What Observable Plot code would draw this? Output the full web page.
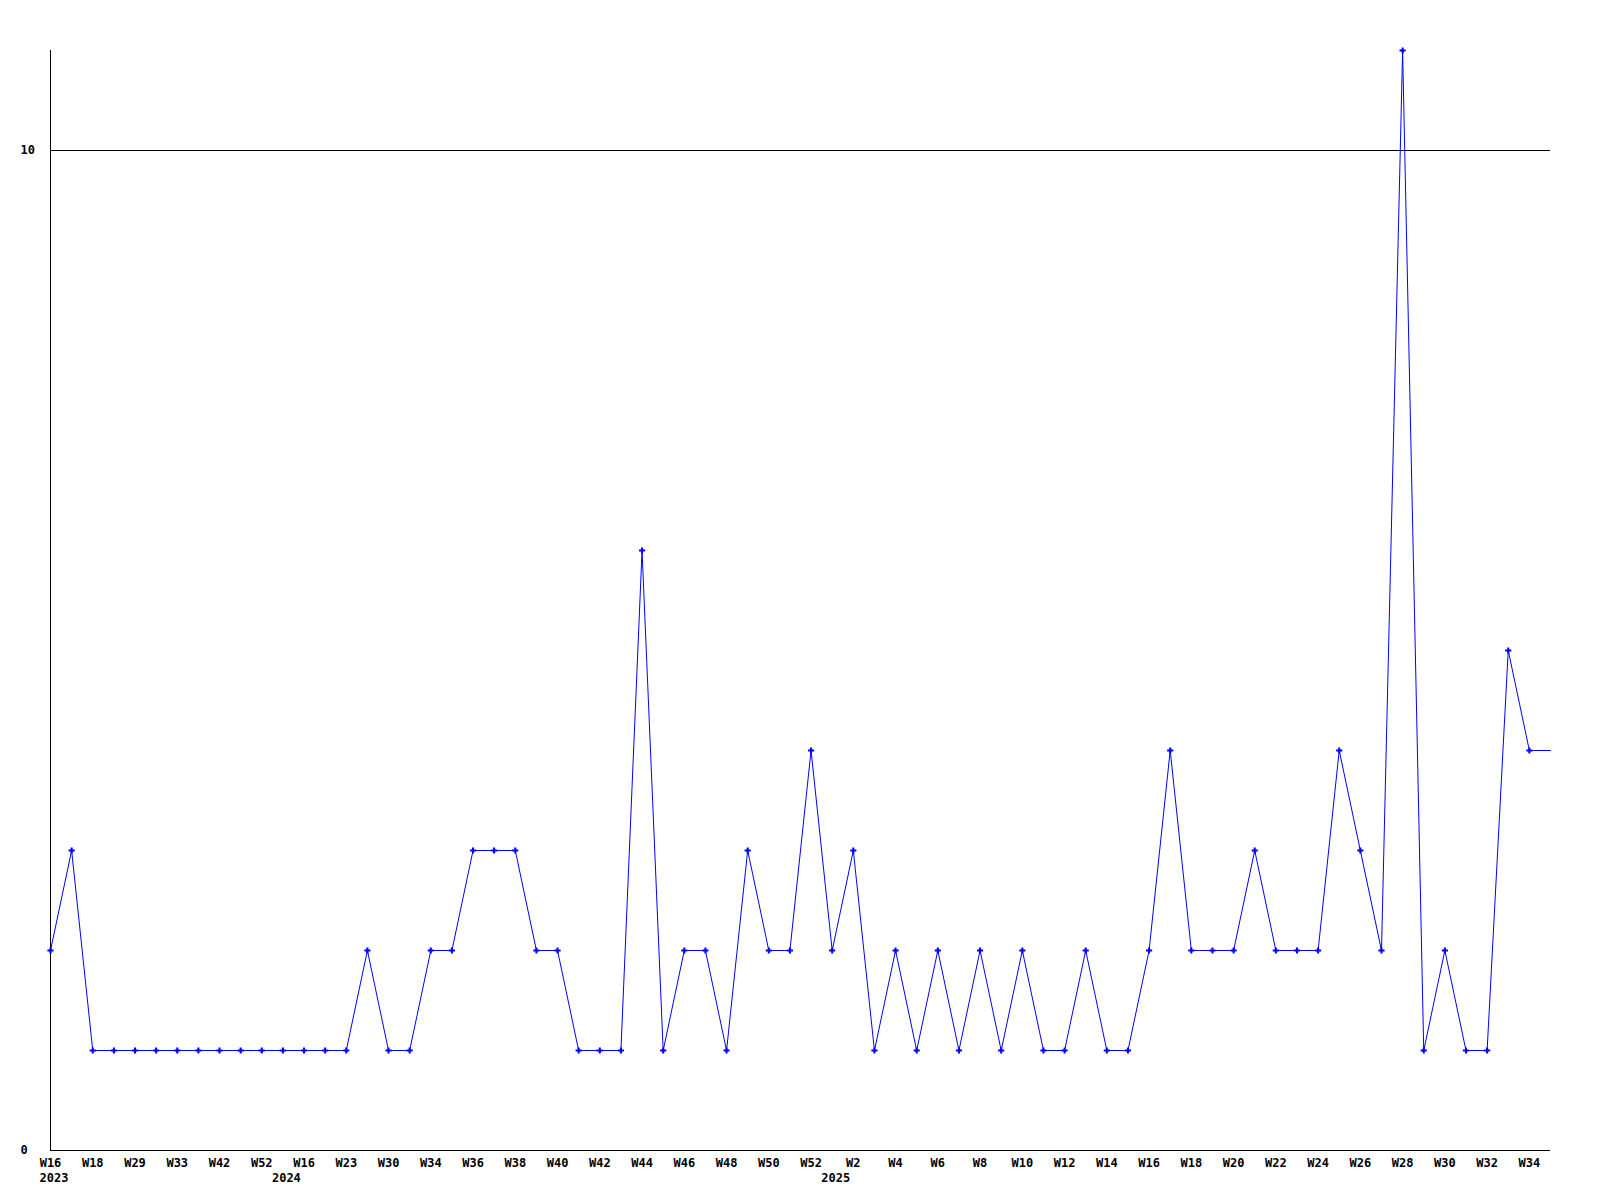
<!DOCTYPE html>
<html>
<head>
<meta charset="utf-8">
<script src="https://cdn.jsdelivr.net/npm/d3@7"></script>
<script src="https://cdn.jsdelivr.net/npm/@observablehq/plot@0.6"></script>
<style>
  html, body { margin: 0; padding: 0; background: #fff; }
  #chart svg { display: block; }
</style>
</head>
<body>
<div id="chart"></div>
<script>
// Week labels of each data point (only every other one is shown on the axis)
const weeks = [
  "W16","W17","W18","W25","W29","W31","W33","W37","W42","W47","W52",
  "W9","W16","W20","W23","W27","W30","W32","W34","W35","W36","W37","W38","W39","W40",
  "W41","W42","W43","W44","W45","W46","W47","W48","W49","W50","W51","W52",
  "W1","W2","W3","W4","W5","W6","W7","W8","W9","W10","W11","W12","W13","W14","W15",
  "W16","W17","W18","W19","W20","W21","W22","W23","W24","W25","W26","W27","W28",
  "W29","W30","W31","W32","W33","W34","W35"
];
const years = [
  2023,2023,2023,2023,2023,2023,2023,2023,2023,2023,2023,
  2024,2024,2024,2024,2024,2024,2024,2024,2024,2024,2024,2024,2024,2024,
  2024,2024,2024,2024,2024,2024,2024,2024,2024,2024,2024,2024,
  2025,2025,2025,2025,2025,2025,2025,2025,2025,2025,2025,2025,2025,2025,2025,
  2025,2025,2025,2025,2025,2025,2025,2025,2025,2025,2025,2025,2025,
  2025,2025,2025,2025,2025,2025,2025
];
const counts = [
  2,3,1,1,1,1,1,1,1,1,
  1,1,1,1,1,2,1,1,2,2,
  3,3,3,2,2,1,1,1,6,1,
  2,2,1,3,2,2,4,2,3,1,
  2,1,2,1,2,1,2,1,1,2,
  1,1,2,4,2,2,2,3,2,2,
  2,4,3,2,11,1,2,1,1,5,
  4,4
];
const yTicks = [0, 10];
const yearLabels = [
  {year: 2023, index: 0},
  {year: 2024, index: 11},
  {year: 2025, index: 37}
];

const keys = weeks.map((w, i) => years[i] + "-" + w);
const keyIndex = new Map(keys.map((k, i) => [k, i]));
const data = counts.map((v, i) => ({key: keys[i], v}));
const markedData = data.slice(0, data.length - 1);
const yearData = yearLabels.map(d => ({key: keys[d.index], label: String(d.year)}));

const font = "'DejaVu Sans Mono', 'Liberation Mono', monospace";

const chart = Plot.plot({
  width: 1600,
  height: 1200,
  marginLeft: 50,
  marginRight: 50,
  marginTop: 50,
  marginBottom: 50,
  style: {fontFamily: font, fontSize: "12px", fontWeight: "bold", background: "#fff", color: "#000"},
  x: {type: "point", domain: keys, padding: 0, align: 0.5, round: false, label: null},
  y: {domain: [0, 11], label: null},
  marks: [
    Plot.ruleY(yTicks, {stroke: "#000", strokeWidth: 1}),
    Plot.ruleX([keys[0]], {stroke: "#000", strokeWidth: 1}),
    Plot.line(data, {x: "key", y: "v", stroke: "#0000ff", strokeWidth: 1}),
    Plot.dot(markedData, {x: "key", y: "v", symbol: "cross", fill: "#0000ff", r: 2.6}),
    Plot.axisY(yTicks, {
      tickSize: 0, tickPadding: 0, textAnchor: "start", dx: -30, label: null,
      tickFormat: d => String(d), fontWeight: "bold", fill: "#000"
    }),
    Plot.axisX(keys, {
      tickSize: 0, tickPadding: 8, fill: "#000", label: null,
      tickFormat: k => (keyIndex.get(k) % 2 === 0 && keyIndex.get(k) < 71) ? weeks[keyIndex.get(k)] : ""
    }),
    Plot.text(yearData, {
      x: "key", text: "label", frameAnchor: "bottom", dy: 28, dx: 3.5,
      lineAnchor: "middle", textAnchor: "middle", fill: "#000"
    })
  ]
});
document.getElementById("chart").appendChild(chart);
</script>
</body>
</html>
